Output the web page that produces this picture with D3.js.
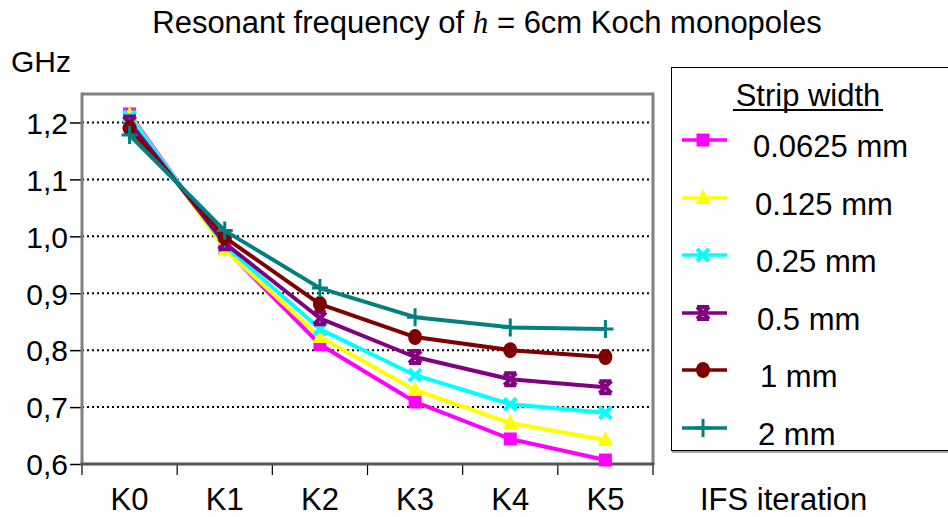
<!DOCTYPE html>
<html><head><meta charset="utf-8">
<script src="https://cdn.jsdelivr.net/npm/d3@7"></script>
<style>body{margin:0;background:#fff}svg{display:block}text{font-family:"Liberation Sans",Arial,sans-serif;fill:#000}</style>
</head><body>
<svg id="c" width="948" height="517"></svg>
<script>
const categories = ["K0","K1","K2","K3","K4","K5"];
const seriesNames = ["0.0625 mm","0.125 mm","0.25 mm","0.5 mm","1 mm","2 mm"];
const s0625 = [1.215,0.979,0.810,0.709,0.644,0.607];
const s125  = [1.213,0.977,0.823,0.730,0.672,0.642];
const s25   = [1.210,0.984,0.837,0.756,0.705,0.690];
const s5    = [1.200,0.988,0.856,0.788,0.749,0.735];
const s1    = [1.190,0.998,0.881,0.823,0.800,0.788];
const s2    = [1.178,1.010,0.909,0.858,0.840,0.837];
const yTicks = [0.6,0.7,0.8,0.9,1.0,1.1,1.2];
const colors = ["#ff00ff","#ffff00","#00ffff","#800080","#800000","#008080"];
const markers = ["square","triangle","x","star","circle","plus"];
const allSeries = [s0625,s125,s25,s5,s1,s2];

const svg = d3.select("#c");
const L=82,R=653,T=94,B=464;
const x = d3.scaleBand().domain(categories).range([L,R]);
const y = d3.scaleLinear().domain([0.6,1.25]).range([B,T]);

// title
const title = svg.append("text").attr("x",487).attr("y",33).attr("text-anchor","middle").style("font-size","31px");
title.append("tspan").text("Resonant frequency of ");
title.append("tspan").text("h").style("font-family","'Liberation Serif','Times New Roman',serif").style("font-style","italic");
title.append("tspan").text(" = 6cm Koch monopoles");
svg.append("text").attr("x",11).attr("y",72).style("font-size","30px").text("GHz");

// gridlines
svg.append("g").selectAll("line").data(yTicks.filter(d=>d>0.6)).join("line")
  .attr("x1",L).attr("x2",R).attr("y1",d=>y(d)).attr("y2",d=>y(d))
  .attr("stroke","#000").attr("stroke-width",2).attr("stroke-dasharray","2,3");

// plot border (gray)
svg.append("path").attr("d",`M${L},${T}H${R}V${B}`).attr("fill","none").attr("stroke","#808080").attr("stroke-width",3);

// y axis
const yAxis = d3.axisLeft(y).tickValues(yTicks).tickSize(12).tickPadding(2)
  .tickFormat(d=>d3.format(".1f")(d).replace(".",","));
const gy = svg.append("g").attr("transform",`translate(${L},0)`).call(yAxis);
gy.select(".domain").remove();
gy.selectAll("line").attr("stroke","#000").attr("stroke-width",1.5);
gy.selectAll("text").style("font-size","30px").style("font-family","'Liberation Sans',Arial,sans-serif").attr("dy","0.36em");
svg.append("line").attr("x1",L).attr("x2",L).attr("y1",T-1.5).attr("y2",B+1).attr("stroke","#808080").attr("stroke-width",3);

// x axis
const gx = svg.append("g").attr("transform",`translate(0,${B})`);
const bounds = categories.map(c=>x(c)).concat([R]);
gx.selectAll("line").data(bounds).join("line").attr("x1",d=>d).attr("x2",d=>d).attr("y1",0).attr("y2",11).attr("stroke","#000").attr("stroke-width",1.2);
gx.selectAll("text").data(categories).join("text").attr("x",d=>x(d)+x.bandwidth()/2).attr("y",46)
  .attr("text-anchor","middle").style("font-size","31px").text(d=>d);
svg.append("line").attr("x1",L-1.5).attr("x2",R+1.5).attr("y1",B).attr("y2",B).attr("stroke","#555").attr("stroke-width",3);
svg.append("text").attr("x",700).attr("y",510).style("font-size","31px").text("IFS iteration");

function drawMarker(g,type,color,cx,cy){
  if(type==="square") g.append("rect").attr("x",cx-6.5).attr("y",cy-6.5).attr("width",13).attr("height",13).attr("fill",color);
  else if(type==="triangle") g.append("path").attr("d",`M${cx},${cy-9}L${cx+7.5},${cy+6}L${cx-7.5},${cy+6}Z`).attr("fill",color);
  else if(type==="x") g.append("path").attr("d",`M${cx-6},${cy-6}L${cx+6},${cy+6}M${cx+6},${cy-6}L${cx-6},${cy+6}`).attr("stroke",color).attr("stroke-width",4);
  else if(type==="star") g.append("path").attr("d",`M${cx-6},${cy-6}L${cx+6},${cy+6}M${cx+6},${cy-6}L${cx-6},${cy+6}M${cx-6},${cy-6}H${cx+6}M${cx-6},${cy+6}H${cx+6}`).attr("stroke",color).attr("stroke-width",4);
  else if(type==="circle") g.append("ellipse").attr("cx",cx).attr("cy",cy).attr("rx",7).attr("ry",8).attr("fill",color);
  else if(type==="plus") g.append("path").attr("d",`M${cx-8},${cy}H${cx+8}M${cx},${cy-9}V${cy+9}`).attr("stroke",color).attr("stroke-width",3);
}

const line = d3.line().x((d,i)=>x(categories[i])+x.bandwidth()/2).y(d=>y(d));
allSeries.forEach((s,k)=>{
  const g = svg.append("g");
  g.append("path").attr("d",line(s)).attr("fill","none").attr("stroke",colors[k]).attr("stroke-width",4).attr("stroke-linejoin","round");
  s.forEach((v,i)=>drawMarker(g,markers[k],colors[k],x(categories[i])+x.bandwidth()/2,y(v)));
});

// legend
const lg = svg.append("g");
lg.append("rect").attr("x",671.5).attr("y",67.5).attr("width",300).attr("height",383).attr("fill","#fff").attr("stroke","#000").attr("stroke-width",1);
lg.append("line").attr("x1",672).attr("x2",948).attr("y1",452).attr("y2",452).attr("stroke","#888").attr("stroke-width",1.5);
lg.append("text").attr("x",808).attr("y",106).attr("text-anchor","middle").style("font-size","31px").text("Strip width");
lg.append("line").attr("x1",733).attr("x2",883).attr("y1",110).attr("y2",110).attr("stroke","#000").attr("stroke-width",2);
const rowY = [140,198,255,313,370,428];
const textX = [753,755,756,757,760,758];
seriesNames.forEach((n,k)=>{
  lg.append("line").attr("x1",682).attr("x2",727).attr("y1",rowY[k]).attr("y2",rowY[k]).attr("stroke",colors[k]).attr("stroke-width",3.5);
  drawMarker(lg,markers[k],colors[k],703,rowY[k]);
  lg.append("text").attr("x",textX[k]).attr("y",rowY[k]+17).style("font-size","31px").text(n);
});
</script>
</body></html>
